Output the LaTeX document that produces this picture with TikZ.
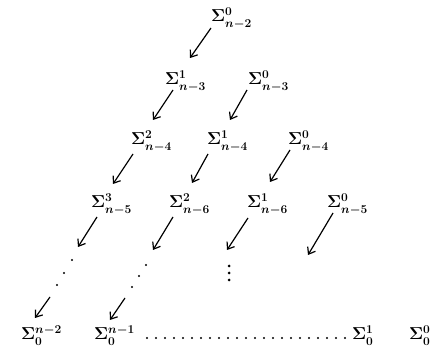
\documentclass[tikz,border=0pt]{standalone}
\usetikzlibrary{arrows.meta}
\begin{document}
\begin{tikzpicture}[x=1pt,y=-1pt,
  lab/.style={anchor=base west,inner sep=0pt,font=\fontsize{18}{20}\selectfont\boldmath},
  arr/.style={-{Straight Barb[length=6pt,width=9pt,line width=1.2pt]},line width=1.2pt}]
\useasboundingbox (0,0) rectangle (442,355);
% row 1
\node[lab] (s02) at (211,22) {$\Sigma^0_{n-2}$};
% row 2
\node[lab] (s13) at (165,85) {$\Sigma^1_{n-3}$};
\node[lab] (s03) at (248,85) {$\Sigma^0_{n-3}$};
% row 3
\node[lab] (s24) at (131,145) {$\Sigma^2_{n-4}$};
\node[lab] (s14) at (207,145) {$\Sigma^1_{n-4}$};
\node[lab] (s04) at (288,145) {$\Sigma^0_{n-4}$};
% row 4
\node[lab] (s35) at (91,208) {$\Sigma^3_{n-5}$};
\node[lab] (s26) at (169,208) {$\Sigma^2_{n-6}$};
\node[lab] (s16) at (247,208) {$\Sigma^1_{n-6}$};
\node[lab] (s05) at (327,208) {$\Sigma^0_{n-5}$};
% bottom row
\node[lab] (b1) at (21,340) {$\Sigma_0^{n-2}$};
\node[lab] (b2) at (94,340) {$\Sigma_0^{n-1}$};
\node[lab] (b3) at (352,340) {$\Sigma_0^{1}$};
\node[lab] (b4) at (409,340) {$\Sigma_0^{0}$};
% arrow endpoints
\coordinate (a1s) at (211,28);  \coordinate (a1e) at (190,58);
\coordinate (a2s) at (173,90);  \coordinate (a2e) at (153,120);
\coordinate (a3s) at (247,90);  \coordinate (a3e) at (230,120);
\coordinate (a4s) at (133,154); \coordinate (a4e) at (113,184);
\coordinate (a5s) at (208,154); \coordinate (a5e) at (192,183);
\coordinate (a6s) at (290,150); \coordinate (a6e) at (270,182);
\coordinate (a7s) at (97,217);  \coordinate (a7e) at (78,247);
\coordinate (a8s) at (173,217); \coordinate (a8e) at (153,250);
\coordinate (a9s) at (248,218); \coordinate (a9e) at (227,250);
\coordinate (a10s) at (333,213); \coordinate (a10e) at (308,255);
\coordinate (a11s) at (50,297); \coordinate (a11e) at (35,318);
\coordinate (a12s) at (125,298); \coordinate (a12e) at (110,320);
\foreach \i in {1,...,12} \draw[arr] (a\i s) -- (a\i e);
% diagonal dots
\foreach \p in {(72,260),(64,273),(57,285),(146,265),(139,276),(132,287)}
  \fill \p circle (1.1pt);
% vertical dots
\foreach \p in {(229,266),(229,273),(229,280)}
  \fill \p circle (1.5pt);
% horizontal dotted line
\foreach \k in {0,...,22}
  \fill ({147+9*\k},338) circle (1.1pt);
\end{tikzpicture}
\end{document}
